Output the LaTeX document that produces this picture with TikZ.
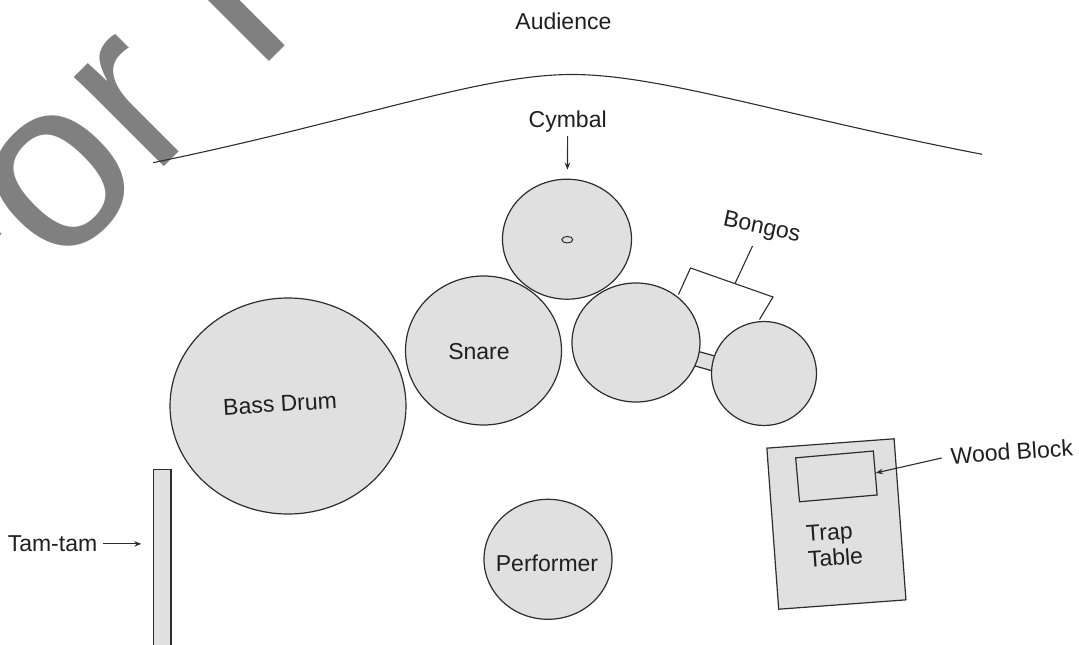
\documentclass[tikz,border=0pt]{standalone}
\usepackage{fontspec}
\setmainfont{Liberation Sans}
\usetikzlibrary{arrows.meta,shapes.geometric}
\definecolor{drumfill}{RGB}{224,224,224}
\definecolor{wm}{RGB}{128,128,128}
\definecolor{ink}{RGB}{45,45,45}
\begin{document}
\begin{tikzpicture}[x=1pt,y=-1pt,
  lbl/.style={font=\fontsize{23}{26}\selectfont, inner sep=0pt, text=black!88},
  drum/.style={draw=ink, fill=drumfill, line width=1.2pt, inner sep=0pt},
  arr/.style={draw=ink, line width=1.1pt, -{Stealth[length=7pt,width=5.5pt]}},
  thinline/.style={draw=ink, line width=1.1pt}]
\useasboundingbox (0,0) rectangle (1079,645);
\clip (0,0) rectangle (1079,645);
% watermark
\node[font=\fontsize{240}{240}\selectfont, text=wm, anchor=base west, rotate=45, inner sep=0pt] (wmark) at (-46,377) {For Review Only};
% audience line
\coordinate (crvA) at (153,162.7);
\coordinate (crvP) at (572,74.5);
\coordinate (crvB) at (982,154.3);
\draw[thinline] (crvA) .. controls (360,120) and (480,74.5) .. (crvP)
  .. controls (660,74.5) and (780,115) .. (crvB);
\node[lbl, anchor=base] (aud) at (563.4,29.3) {Audience};
% bongo connector
\draw[drum] (683.9,347.4) -- (732.1,360.8) -- (728.1,375.2) -- (679.9,361.8) -- cycle;
% drums
\node[drum, ellipse, minimum width=236pt, minimum height=216pt] (bass) at (288,406) {};
\node[drum, ellipse, minimum width=156pt, minimum height=149pt] (snare) at (483.5,350.5) {};
\node[drum, ellipse, minimum width=129pt, minimum height=120pt] (cymbal) at (567,239.2) {};
\node[drum, ellipse, minimum width=11pt, minimum height=6.5pt, line width=1pt] (cymdot) at (567.3,239.7) {};
\node[drum, ellipse, minimum width=128pt, minimum height=119pt] (bongoA) at (636,342.5) {};
\node[drum, ellipse, minimum width=105pt, minimum height=104pt] (bongoB) at (764,373.5) {};
\node[drum, ellipse, minimum width=128pt, minimum height=120pt] (perf) at (548,559.3) {};
\node[drum, rectangle, minimum width=127.6pt, minimum height=161.5pt, rotate=4.2] (trap) at (836.4,524) {};
\node[drum, rectangle, minimum width=77.9pt, minimum height=44.1pt, rotate=5] (wood) at (836.4,476.4) {};
\node[drum, rectangle, minimum width=17.7pt, minimum height=190pt] (tamtam) at (162.2,564.3) {};
% labels
\node[lbl, rotate=3.4] (basslbl) at (280,404) {Bass Drum};
\node[lbl, anchor=base] (snarelbl) at (479,359.3) {Snare};
\node[lbl, anchor=base] (cymlbl) at (567.7,127.7) {Cymbal};
\node[lbl, anchor=base] (perflbl) at (547,571.7) {Performer};
\node[lbl, anchor=base] (tamlbl) at (52.5,551.7) {Tam-tam};
\node[lbl, rotate=4] (woodlbl) at (1011.7,451.7) {Wood Block};
\node[lbl, rotate=4, align=left] (traplbl) at (834.5,545) {Trap\\Table};
\node[lbl, rotate=-12] (bongolbl) at (761.7,228.3) {Bongos};
% bongo bracket
\coordinate (brl) at (690.5,268);
\coordinate (brr) at (773,297);
\coordinate (brlf) at (678.5,294.5);
\coordinate (brrf) at (759.5,319.5);
\coordinate (brs) at (735,283.6);
\coordinate (brst) at (752.5,246);
\draw[thinline] (brlf) -- (brl) -- (brr) -- (brrf);
\draw[thinline] (brs) -- (brst);
% arrows
\draw[arr, shorten <=3.5pt, shorten >=9pt] (cymlbl) -- (cymbal);
\draw[arr, shorten <=6pt, shorten >=11.5pt] (tamlbl.east) -- (tamlbl.east -| tamtam.west);
\draw[arr, shorten <=9pt] (woodlbl.west) -- (wood.east);
\end{tikzpicture}
\end{document}
